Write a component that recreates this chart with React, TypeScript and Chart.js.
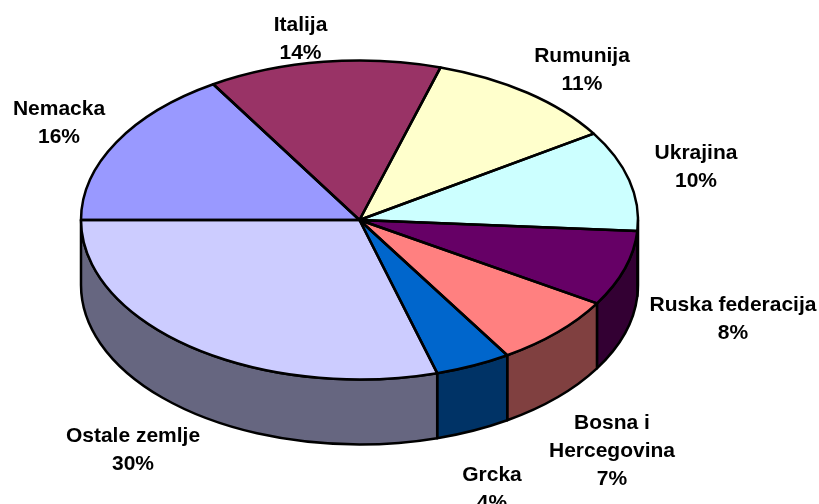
import React, { useEffect, useRef } from "react";
import { Chart, registerables } from "chart.js";

Chart.register(...registerables);

const categories = ["Nemacka", "Italija", "Rumunija", "Ukrajina", "Ruska federacija", "Bosna i Hercegovina", "Grcka", "Ostale zemlje"];
const shares = [16.2, 13.5, 11.2, 10.2, 7.65, 7.35, 4.4, 29.5];
const faceColors = ["#9999FF", "#993366", "#FFFFCC", "#CCFFFF", "#660066", "#FF8080", "#0066CC", "#CCCCFF"];
const wallColors = ["#4D4D80", "#4D1A33", "#808066", "#668080", "#330033", "#804040", "#003366", "#666680"];
const labelLines = [["Nemacka"], ["Italija"], ["Rumunija"], ["Ukrajina"], ["Ruska federacija"], ["Bosna i", "Hercegovina"], ["Grcka"], ["Ostale zemlje"]];
const labelAnchors = [[59, 109], [300.5, 25], [582, 56], [696, 153], [733, 305], [612, 423], [492, 475], [133, 436]];

const SQUASH = 159.5 / 278.5;
const DEPTH = 65;
const LINE_GAP = 28;

const pie3d = {
  id: "pie3d",
  beforeDatasetDraw(chart: any) {
    const ctx = chart.ctx;
    const arcs = chart.getDatasetMeta(0).data;
    const { x, y, outerRadius: r } = arcs[0];
    const ry = r * SQUASH;
    ctx.save();
    ctx.lineWidth = 2.5;
    ctx.strokeStyle = "#000";
    ctx.lineJoin = "round";
    arcs.forEach((a: any, i: number) => {
      const s = Math.max(a.startAngle, 0);
      const e = Math.min(a.endAngle, Math.PI);
      if (e <= s) return;
      ctx.beginPath();
      ctx.ellipse(x, y, r, ry, 0, s, e);
      ctx.lineTo(x + r * Math.cos(e), y + ry * Math.sin(e) + DEPTH);
      ctx.ellipse(x, y + DEPTH, r, ry, 0, e, s, true);
      ctx.closePath();
      ctx.fillStyle = wallColors[i];
      ctx.fill();
      ctx.stroke();
    });
    ctx.restore();
    ctx.save();
    ctx.translate(x, y);
    ctx.scale(1, SQUASH);
    ctx.translate(-x, -y);
  },
  afterDatasetDraw(chart: any) {
    const ctx = chart.ctx;
    ctx.restore();
    const arcs = chart.getDatasetMeta(0).data;
    ctx.save();
    ctx.lineWidth = 2.5;
    ctx.strokeStyle = "#000";
    ctx.lineJoin = "round";
    arcs.forEach((a: any) => {
      const ry = a.outerRadius * SQUASH;
      ctx.beginPath();
      ctx.moveTo(a.x, a.y);
      ctx.ellipse(a.x, a.y, a.outerRadius, ry, 0, a.startAngle, a.endAngle);
      ctx.closePath();
      ctx.stroke();
    });
    ctx.restore();
  },
  afterDraw(chart: any) {
    const ctx = chart.ctx;
    ctx.save();
    ctx.fillStyle = "#000";
    ctx.font = "bold 21px 'Liberation Sans', Arial, sans-serif";
    ctx.textAlign = "center";
    ctx.textBaseline = "middle";
    labelLines.forEach((lines, i) => {
      const [cx, cy] = labelAnchors[i];
      [...lines, `${Math.round(shares[i])}%`].forEach((t, k) => ctx.fillText(t, cx, cy + k * LINE_GAP));
    });
    ctx.restore();
  },
};

export default function App() {
  const ref = useRef<HTMLCanvasElement>(null);
  useEffect(() => {
    document.body.style.margin = "0";
    const chart = new Chart(ref.current!, {
      type: "pie",
      data: {
        labels: categories,
        datasets: [{
          data: shares,
          backgroundColor: faceColors,
          borderWidth: 0,
          radius: 278.5,
          clip: false,
        } as any],
      },
      options: {
        responsive: false,
        animation: false,
        rotation: -90,
        layout: { padding: { left: 0, top: 0, right: 100, bottom: 64 } },
        plugins: { legend: { display: false }, tooltip: { enabled: false } },
      },
      plugins: [pie3d],
    });
    return () => chart.destroy();
  }, []);
  return <canvas ref={ref} width={819} height={504} style={{ display: "block" }} />;
}
